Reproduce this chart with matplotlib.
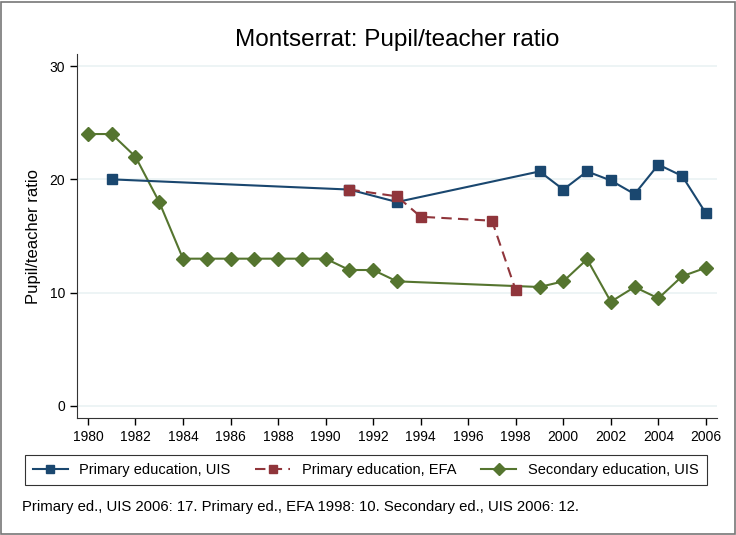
import numpy as np
import matplotlib.pyplot as plt
from matplotlib.patches import Rectangle

plt.rcParams['font.family'] = ['Liberation Sans', 'DejaVu Sans']

# Primary education, UIS
yr_pu = np.array([1981, 1991, 1993, 1999, 2000, 2001, 2002, 2003, 2004, 2005, 2006])
val_pu = np.array([20.0, 19.1, 18.0, 20.7, 19.1, 20.7, 19.9, 18.7, 21.3, 20.3, 17.0])

# Primary education, EFA
yr_pe = np.array([1991, 1993, 1994, 1997, 1998])
val_pe = np.array([19.1, 18.5, 16.7, 16.35, 10.2])

# Secondary education, UIS
yr_su = np.array([1980, 1981, 1982, 1983, 1984, 1985, 1986, 1987, 1988, 1989, 1990,
                  1991, 1992, 1993, 1999, 2000, 2001, 2002, 2003, 2004, 2005, 2006])
val_su = np.array([24, 24, 22, 18, 13, 13, 13, 13, 13, 13, 13,
                   12, 12, 11, 10.5, 11.0, 12.95, 9.2, 10.5, 9.5, 11.45, 12.2])

xticks = np.arange(1980, 2007, 2)
yticks = [0, 10, 20, 30]

c_blue = '#1a476f'
c_red = '#90353b'
c_green = '#55752f'

fig = plt.figure(figsize=(7.36, 5.35), dpi=100)
ax = fig.add_axes([0.1046, 0.2187, 0.8694, 0.6803])

for y in yticks:
    ax.axhline(y, color='#eaf2f3', lw=1.2, zorder=0)

l1, = ax.plot(yr_pu, val_pu, color=c_blue, lw=1.5, marker='s', markersize=7, zorder=3)
l2, = ax.plot(yr_pe, val_pe, color=c_red, lw=1.5, ls=(0, (5, 3)), marker='s', markersize=7, zorder=4)
l3, = ax.plot(yr_su, val_su, color=c_green, lw=1.5, marker='D', markersize=7.5, zorder=2)

ax.set_xlim(1979.54, 2006.46)
ax.set_ylim(-1.06, 31.06)
ax.set_xticks(xticks)
ax.set_yticks(yticks)
ax.tick_params(direction='out', length=5, width=1, labelsize=10, colors='black')
ax.spines['top'].set_visible(False)
ax.spines['right'].set_visible(False)
ax.spines['left'].set_color('#333333')
ax.spines['bottom'].set_color('#333333')
ax.set_ylabel('Pupil/teacher ratio', fontsize=12, labelpad=6)
ax.set_title('Montserrat: Pupil/teacher ratio', fontsize=17.5, pad=6)

leg = fig.legend([l1, l2, l3],
                 ['Primary education, UIS', 'Primary education, EFA', 'Secondary education, UIS'],
                 loc='center', bbox_to_anchor=(0.497, 0.122), ncol=3, fontsize=10.5,
                 frameon=True, fancybox=False, edgecolor='black', handlelength=2.4,
                 columnspacing=1.7, borderpad=0.55, markerscale=0.85)
leg.get_frame().set_linewidth(0.8)

fig.text(0.03, 0.052, 'Primary ed., UIS 2006: 17. Primary ed., EFA 1998: 10. Secondary ed., UIS 2006: 12.',
         fontsize=10.7, va='center')

fig.patches.append(Rectangle((0.002, 0.002), 0.996, 0.994, transform=fig.transFigure,
                             fill=False, edgecolor='#777777', lw=1.2))

plt.savefig('out.png', dpi=100)
